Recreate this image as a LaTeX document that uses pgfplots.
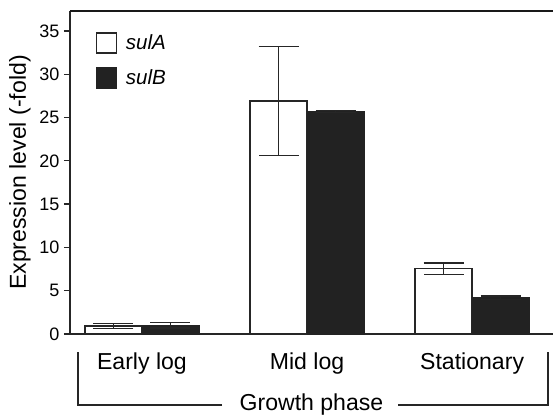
\documentclass[border=0pt]{standalone}
\usepackage{pgfplots}
\pgfplotsset{compat=1.18}
\usepackage{fontspec}
\setmainfont{Liberation Sans}

\definecolor{barblack}{HTML}{222222}

\begin{document}
\begin{tikzpicture}
\begin{axis}[
  scale only axis,
  width=362.25pt, height=242.25pt,
  ybar=0pt, bar width=0.345,
  xmin=-0.436, xmax=2.49,
  ymin=0, ymax=37.3,
  axis x line*=box, axis y line*=left,
  axis line style={line width=1.5pt, black!85},
  ytick={0,5,...,35},
  xtick={0,1,2},
  xticklabels={Early log, Mid log, Stationary},
  tick align=outside,
  major tick length=4.5pt,
  x tick style={draw=none},
  y tick style={line width=1pt, black!85},
  tick label style={font=\fontsize{13.5}{16}\selectfont},
  xticklabel style={font=\fontsize{17.3}{20}\selectfont, yshift=-6pt},
  /pgf/number format/assume math mode=true,
  ylabel={Expression level (-fold)},
  ylabel style={font=\fontsize{17.3}{20}\selectfont, at={(axis description cs:0,0.5)}, anchor=center, yshift=37.5pt},
  legend style={draw=none, fill=none, at={(axis description cs:0.044,0.945)}, anchor=north west,
    font=\fontsize{15.4}{18}\selectfont\itshape, row sep=9.5pt},
  legend cell align=left,
  clip=false,
]
\addplot[fill=white, draw=black!85, line width=1.3pt,
  legend image code/.code={\draw[fill=white, draw=black!85, line width=1.3pt] (0pt,-7.5pt) rectangle (15pt,7.5pt); \path (19.5pt,0pt);},
  error bars/.cd, y dir=both, y explicit,
  error bar style={line width=1pt, black!85},
  error mark options={rotate=90, mark size=15pt, line width=1pt, black!85}]
  coordinates {(0,0.95) +- (0,0.3) (1,26.9) +- (0,6.3) (2,7.55) +- (0,0.65)};
\addlegendentry{sulA}
\addplot[fill=barblack, draw=barblack, line width=0.5pt,
  legend image code/.code={\draw[fill=barblack, draw=barblack, line width=1.3pt] (0pt,-7.5pt) rectangle (15pt,7.5pt); \path (19.5pt,0pt);},
  error bars/.cd, y dir=both, y explicit,
  error bar style={line width=1pt, black!85},
  error mark options={rotate=90, mark size=15pt, line width=1pt, black!85}]
  coordinates {(0,1.0) +- (0,0.3) (1,25.7) +- (0,0.1) (2,4.2) +- (0,0.2)};
\addlegendentry{sulB}
\end{axis}
% top frame line (no right line in the reference)
\draw[line width=1.5pt, black!90] (0pt,242.25pt) -- (362.25pt,242.25pt);
% bracket under the categories
\draw[line width=1pt, black!85] (114pt,-53.25pt) -- (6pt,-53.25pt) -- (6pt,-13.5pt);
\draw[line width=1pt, black!85] (246pt,-53.25pt) -- (358.5pt,-53.25pt) -- (358.5pt,-13.5pt);
\node[font=\fontsize{17.3}{20}\selectfont, anchor=center] at (181.1pt,-53.25pt) {Growth phase};
\pgfresetboundingbox
\path (-52.5pt,-60.75pt) rectangle (362.25pt,250.5pt);
\end{tikzpicture}
\end{document}
